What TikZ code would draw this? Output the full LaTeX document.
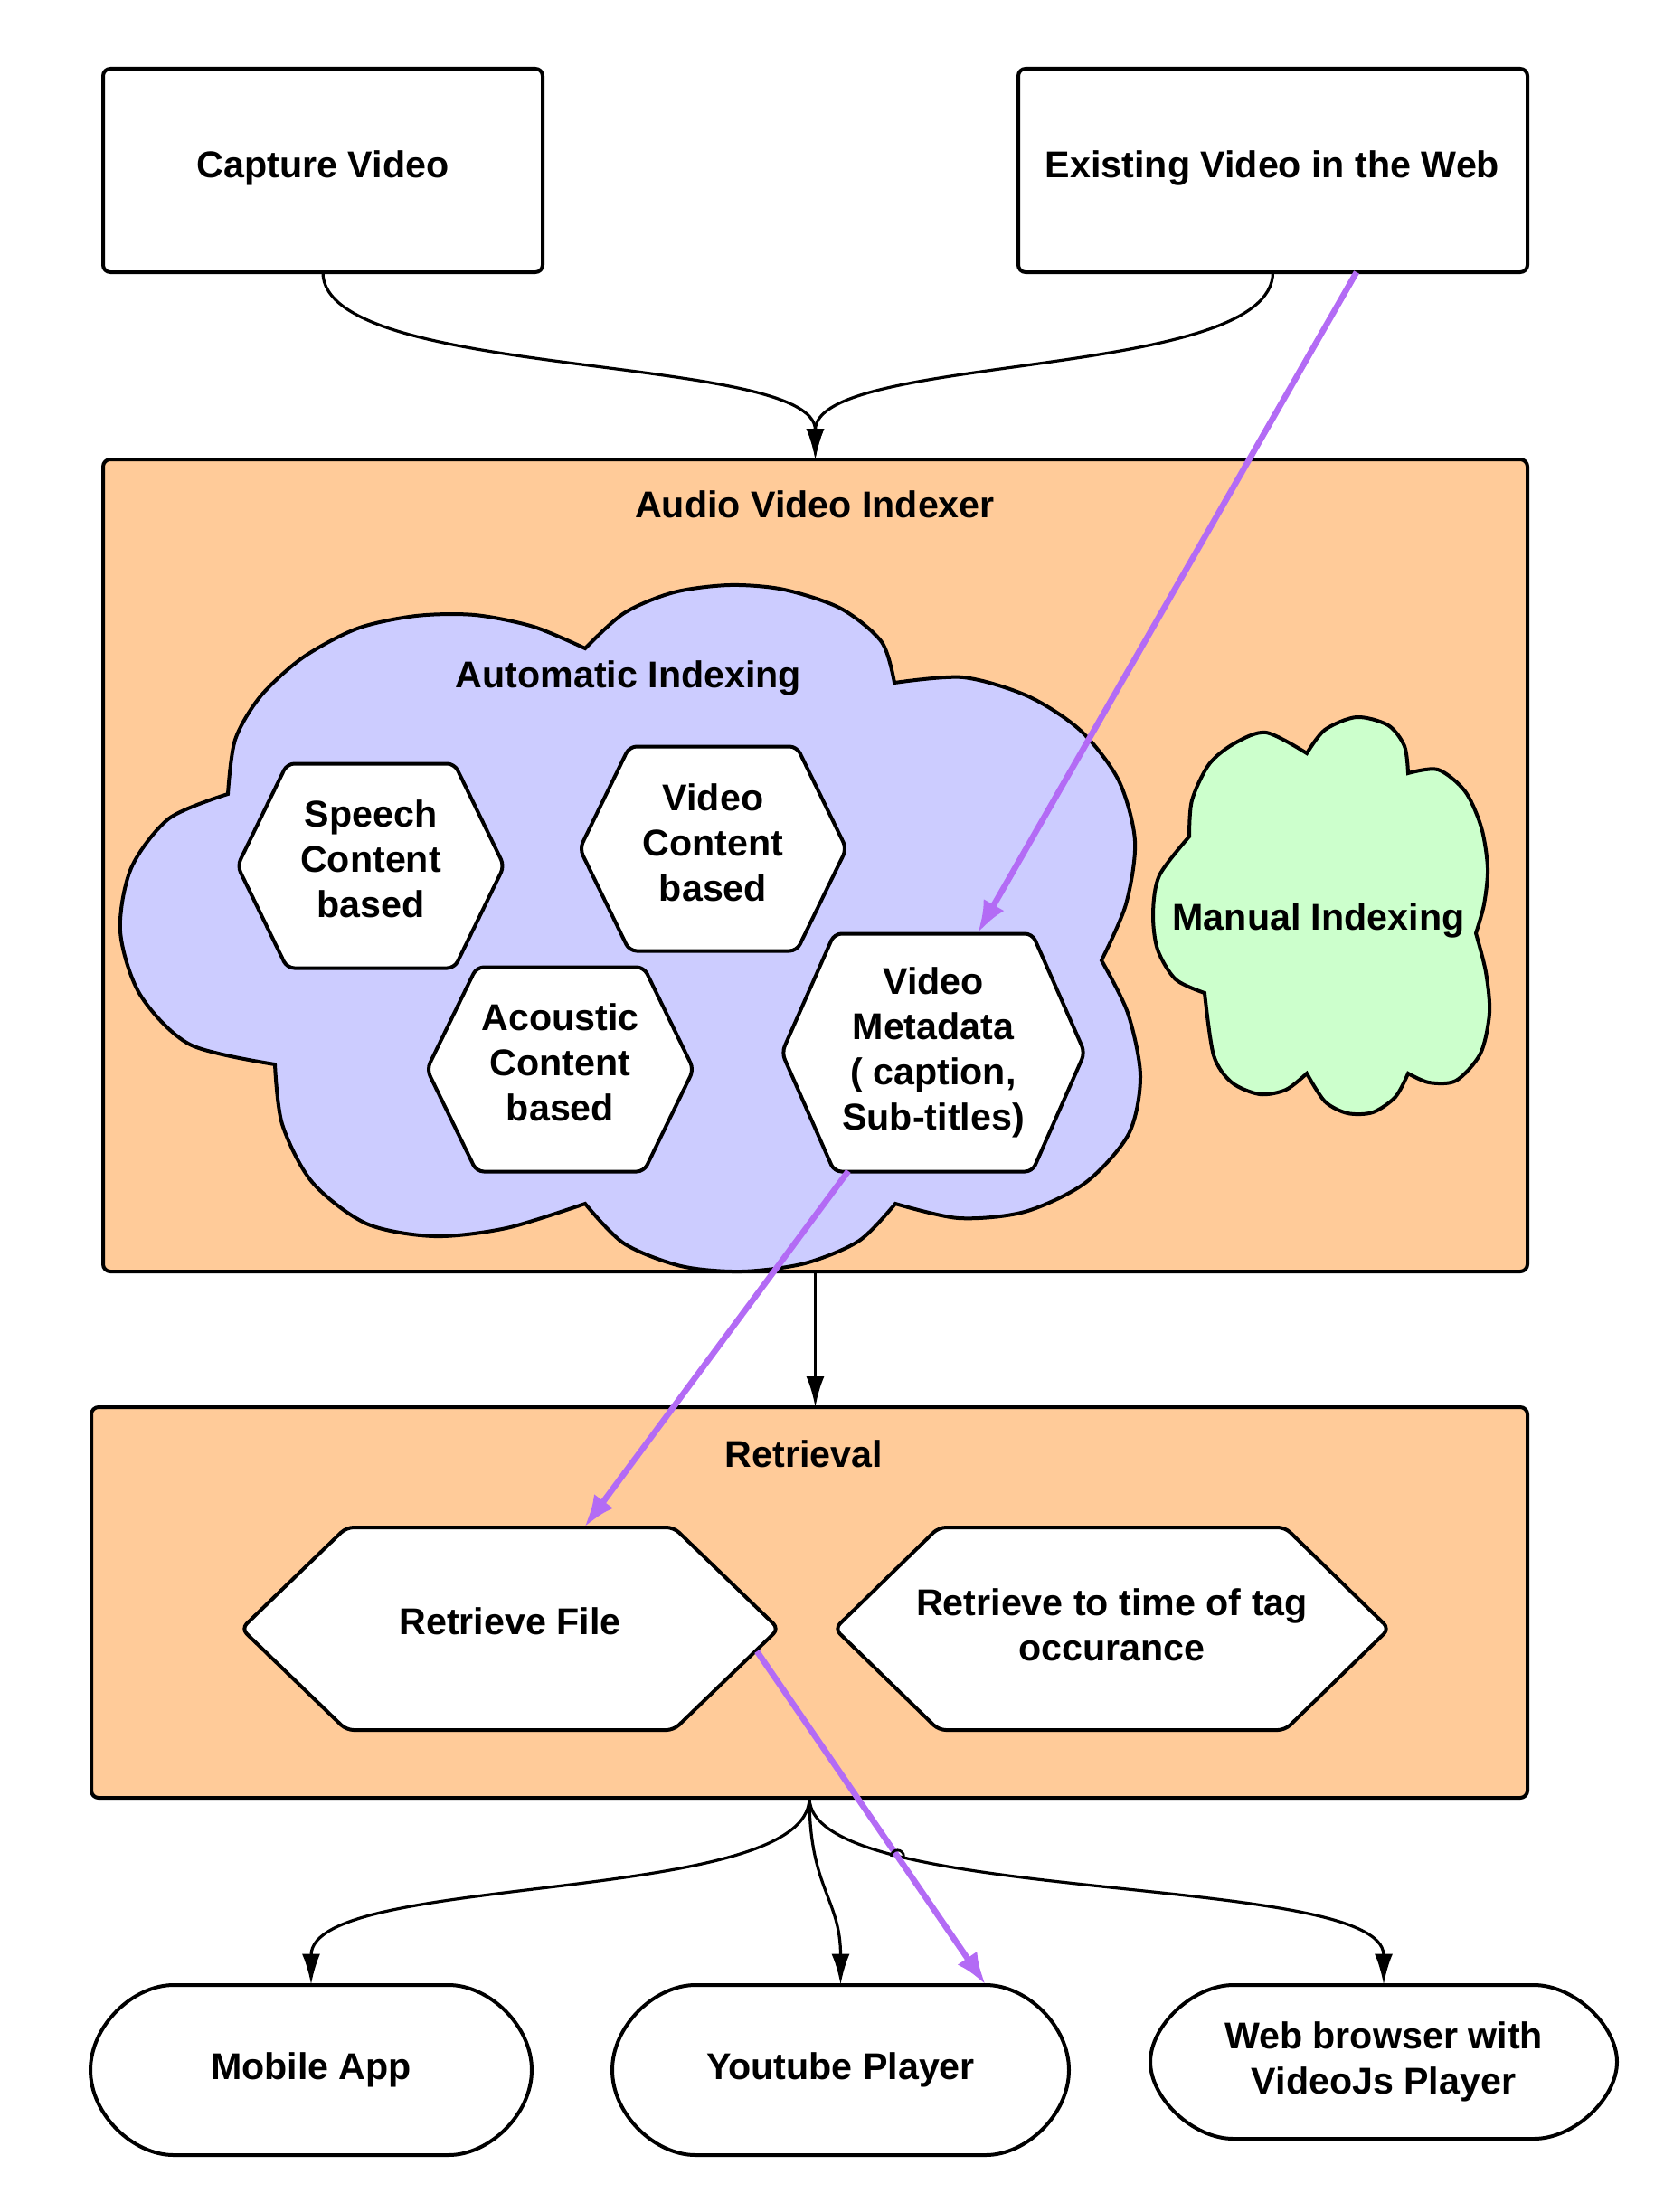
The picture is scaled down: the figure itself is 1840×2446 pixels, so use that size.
\documentclass[tikz,border=0pt]{standalone}
\usepackage{fontspec}
\setmainfont{Liberation Sans}
\usetikzlibrary{arrows.meta,intersections}
\definecolor{orangebox}{HTML}{FFCB99}
\definecolor{lavender}{HTML}{CCCCFF}
\definecolor{mint}{HTML}{CCFFCC}
\definecolor{purp}{HTML}{B36BF5}
\newcommand\hexshape[5]{%
  \draw[hexline] ({#1-#3},#2) -- ({#1-#3+#5},{#2-#4}) -- ({#1+#3-#5},{#2-#4}) -- ({#1+#3},#2)
    -- ({#1+#3-#5},{#2+#4}) -- ({#1-#3+#5},{#2+#4}) -- cycle;}
\newcommand\termshape[5]{%
  \draw[line width=2pt, fill=white] ({#1+#5},#3) -- ({#2-#5},#3)
    .. controls ({#2-#5+45},#3) and (#2,{#3+45}) .. (#2,{(#3+#4)/2})
    .. controls (#2,{#4-45}) and ({#2-#5+45},#4) .. ({#2-#5},#4)
    -- ({#1+#5},#4)
    .. controls ({#1+#5-45},#4) and (#1,{#4-45}) .. (#1,{(#3+#4)/2})
    .. controls (#1,{#3+45}) and ({#1+#5-45},#3) .. ({#1+#5},#3) -- cycle;}
\begin{document}
\begin{tikzpicture}[x=0.5pt,y=-0.5pt,
  txt/.style={font=\fontsize{20.6}{25}\selectfont\bfseries, align=center, inner sep=0pt},
  wbox/.style={draw, line width=2pt, rounded corners=4pt, fill=white, inner sep=0pt, outer sep=0pt},
  obox/.style={draw, line width=2pt, rounded corners=4pt, fill=orangebox, inner sep=0pt, outer sep=0pt},
  hexline/.style={draw, line width=2pt, fill=white, rounded corners=4pt, line join=round},
  cloudline/.style={draw, line width=2pt, line join=miter},
  conn/.style={line width=1.6pt, -{Latex[length=17pt,width=10pt]}},
  pconn/.style={draw=purp, line width=3.3pt, -{Latex[length=18pt,width=13pt]}},
]
\useasboundingbox[fill=white] (0,0) rectangle (1840,2446);

% top sources
\node[wbox, minimum width=243pt, minimum height=112.5pt] (cap) at (357,188.5) {};
\node[txt] (captxt) at (357,186) {Capture Video};
\node[wbox, minimum width=281.5pt, minimum height=112.5pt] (exist) at (1407.5,188.5) {};
\node[txt] (existtxt) at (1407,186) {Existing Video in the Web};

% Audio Video Indexer container
\node[obox, minimum width=787.5pt, minimum height=449pt] (avi) at (901.5,957) {};
\node[txt] (avititle) at (901,558) {Audio Video Indexer};

% Automatic indexing cloud
\draw[cloudline, fill=lavender]
  (252,878) -- plot[smooth] coordinates {(252,878) (187,905) (145,960) (133,1030) (155,1100) (210,1155) (304,1177)}
  -- plot[smooth] coordinates {(304,1177) (312,1243) (345,1307) (405,1353) (480,1367) (560,1358) (647,1331)}
  -- plot[smooth] coordinates {(647,1331) (690,1375) (753,1400) (820,1406) (890,1397) (950,1372) (990,1331)}
  -- plot[smooth] coordinates {(990,1331) (1060,1347) (1133,1340) (1200,1308) (1248,1254) (1261,1190) (1247,1120) (1218,1062)}
  -- plot[smooth] coordinates {(1218,1062) (1245,1000) (1255,930) (1237,863) (1195,808) (1137,770) (1065,749) (989,755)}
  -- plot[smooth] coordinates {(989,755) (975,710) (930,673) (867,652) (807,647) (745,655) (690,678) (647,717)}
  -- plot[smooth] coordinates {(647,717) (590,693) (525,680) (460,681) (395,695) (335,727) (288,770) (260,818) (252,878)}
  -- cycle;
\node[txt] (autotitle) at (695,750) {Automatic Indexing};

% hexagons
\hexshape{410}{957.5}{147.5}{113}{55}
\node[txt, minimum width=147.5pt, minimum height=113pt] (speech) at (410,950) {Speech\\Content\\based};
\hexshape{788.5}{938.5}{147.5}{113}{55}
\node[txt, minimum width=147.5pt, minimum height=113pt] (vcont) at (788.5,932) {Video\\Content\\based};
\hexshape{619.5}{1182.5}{147.5}{113}{55}
\node[txt, minimum width=147.5pt, minimum height=113pt] (acou) at (619.5,1175) {Acoustic\\Content\\based};
\hexshape{1032}{1164}{167.5}{131.5}{58}
\node[txt, minimum width=167.5pt, minimum height=131.5pt] (meta) at (1032,1164) {Video\\Metadata\\( caption,\\Sub-titles)};

% Manual indexing cloud
\draw[cloudline, fill=mint]
  (1445,833) -- plot[smooth] coordinates {(1445,833) (1465,807) (1500,793) (1535,802) (1553,825) (1557,855)}
  -- plot[smooth] coordinates {(1557,855) (1590,851) (1620,875) (1638,915) (1645,960) (1641,1000) (1632,1032)}
  -- plot[smooth] coordinates {(1632,1032) (1643,1075) (1647,1120) (1637,1165) (1610,1195) (1580,1197) (1557,1187)}
  -- plot[smooth] coordinates {(1557,1187) (1543,1213) (1518,1230) (1490,1231) (1465,1218) (1445,1187)}
  -- plot[smooth] coordinates {(1445,1187) (1422,1205) (1393,1210) (1362,1197) (1342,1167) (1332,1098)}
  -- plot[smooth] coordinates {(1332,1098) (1300,1083) (1280,1050) (1275,1010) (1282,968) (1315,925)}
  -- plot[smooth] coordinates {(1315,925) (1318,885) (1337,845) (1365,822) (1400,810) (1445,833)}
  -- cycle;
\node[txt] (manual) at (1458,1018) {Manual Indexing};

% Retrieval container
\node[obox, minimum width=794pt, minimum height=216pt] (ret) at (895,1772) {};
\node[txt] (rettitle) at (889,1608) {Retrieval};
\hexshape{564}{1801}{297}{112}{116}
\node[txt, minimum width=297pt, minimum height=112pt] (rfile) at (564,1793) {Retrieve File};
\hexshape{1229.5}{1801}{306.5}{112}{115}
\node[txt, minimum width=306.5pt, minimum height=112pt] (rtime) at (1229.5,1797) {Retrieve to time of tag\\occurance};

% players
\termshape{100}{588}{2195}{2383}{92}
\node[txt, minimum width=244pt, minimum height=94pt] (mob) at (344,2289) {Mobile App};
\termshape{677}{1182}{2195}{2383}{92}
\node[txt, minimum width=252.5pt, minimum height=94pt] (yt) at (929.5,2289) {Youtube Player};
\termshape{1272}{1788}{2195}{2365}{92}
\node[txt, minimum width=258pt, minimum height=85pt] (web) at (1530,2280) {Web browser with\\VideoJs Player};

% black connectors
\draw[conn] (cap.south) .. controls +(0,120) and +(0,-118) .. (avi.north);
\draw[conn] (exist.south) .. controls +(0,120) and +(0,-118) .. (avi.north);
\draw[conn] (avi.south) -- (avi.south |- ret.north);
\draw[conn] (ret.south) .. controls +(0,120) and +(0,-125) .. (mob.north);
\draw[conn] (ret.south) .. controls +(0,100) and +(0,-95) .. (yt.north);
\draw[conn, name path=webcurve] (ret.south) .. controls +(0,120) and +(0,-125) .. (web.north);

% purple connectors
\coordinate (p1s) at (1500,301);
\coordinate (p1e) at (1081,1032);
\coordinate (p2s) at (938,1295);
\coordinate (p2e) at (646,1689);
\coordinate (p3s) at (837,1826);
\coordinate (p3e) at (1090,2195);
\draw[pconn] (p1s) -- (p1e);
\draw[pconn] (p2s) -- (p2e);
\draw[pconn, name path=purple3] (p3s) -- (p3e);

% line hop
\path[name intersections={of=webcurve and purple3, by=hop}];
\draw[line width=1.4pt] ([xshift=-3.5pt]hop) arc[start angle=180, end angle=0, radius=3.5pt];
\end{tikzpicture}
\end{document}
